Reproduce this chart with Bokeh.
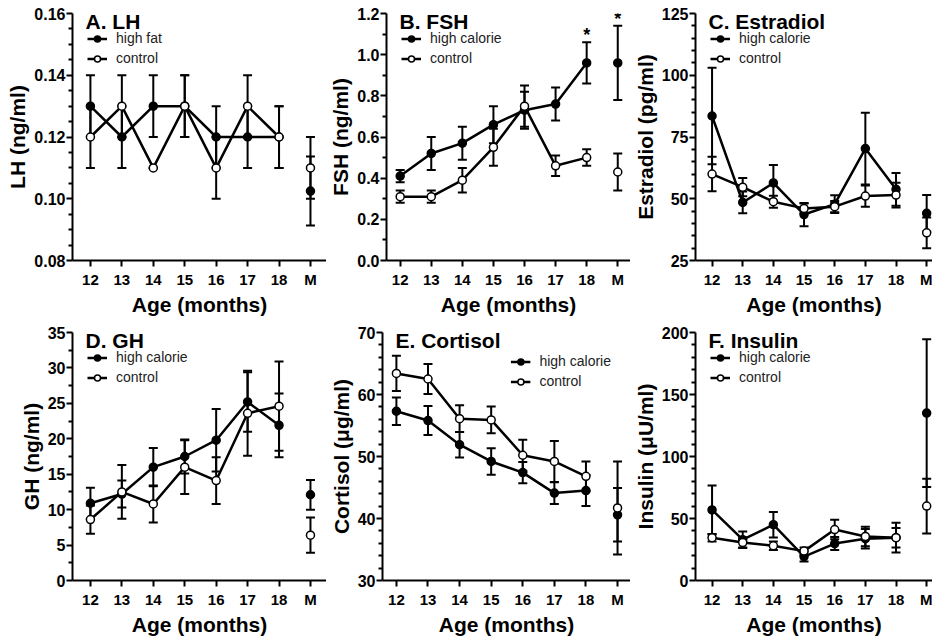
from bokeh.plotting import figure
from bokeh.layouts import column, row
from bokeh.models import (Range1d, FixedTicker, Whisker, TeeHead, ColumnDataSource,
                          Label, Legend, LegendItem, NumeralTickFormatter)
from bokeh.embed import file_html
from bokeh.resources import INLINE
from bokeh.core.properties import value

FONT = "Liberation Sans"

# ---------------- data ----------------
months = [12, 13, 14, 15, 16, 17, 18]
m_pos = 19
x_ticks = [12, 13, 14, 15, 16, 17, 18, 19]
tick_labels = ["12", "13", "14", "15", "16", "17", "18", "M"]

# A. LH
lh_hf = [0.13, 0.12, 0.13, 0.13, 0.12, 0.12, 0.12]
lh_hf_err = [0.01, 0.01, 0.01, 0.01, 0.01, 0.01, 0.01]
lh_ctl = [0.12, 0.13, 0.11, 0.13, 0.11, 0.13, 0.12]
lh_ctl_err = [0.01, 0.01, 0.0, 0.01, 0.01, 0.01, 0.01]
lh_m = [0.1025, 0.110]
lh_m_err = [0.0112, 0.010]

# B. FSH
fsh_hc = [0.41, 0.52, 0.57, 0.66, 0.73, 0.76, 0.96]
fsh_hc_err = [0.03, 0.08, 0.08, 0.09, 0.09, 0.08, 0.10]
fsh_ctl = [0.31, 0.31, 0.39, 0.55, 0.75, 0.46, 0.50]
fsh_ctl_err = [0.03, 0.03, 0.06, 0.09, 0.10, 0.05, 0.04]
fsh_m = [0.96, 0.43]
fsh_m_err = [0.18, 0.09]
fsh_sig = [18, 19]

# C. Estradiol
e2_hc = [83.5, 48.5, 56.4, 43.6, 47.8, 70.3, 53.8]
e2_hc_err = [19.5, 4.4, 7.3, 4.7, 3.6, 14.5, 6.6]
e2_ctl = [60.0, 54.7, 48.8, 46.1, 46.8, 51.1, 51.5]
e2_ctl_err = [7.0, 3.7, 2.4, 2.0, 2.3, 4.3, 5.0]
e2_m = [44.1, 36.2]
e2_m_err = [7.4, 6.2]

# D. GH
gh_hc = [10.9, 12.2, 16.0, 17.5, 19.8, 25.2, 21.9]
gh_hc_err = [2.2, 1.9, 2.7, 2.4, 4.4, 4.2, 4.5]
gh_ctl = [8.6, 12.5, 10.8, 16.0, 14.1, 23.6, 24.6]
gh_ctl_err = [2.0, 3.8, 2.6, 3.8, 3.3, 6.0, 6.3]
gh_m = [12.1, 6.4]
gh_m_err = [2.1, 2.5]

# E. Cortisol
cort_hc = [57.3, 55.8, 51.9, 49.2, 47.4, 44.1, 44.5]
cort_hc_err = [2.2, 2.35, 2.05, 2.15, 1.7, 1.75, 2.5]
cort_ctl = [63.4, 62.5, 56.1, 55.9, 50.2, 49.2, 46.8]
cort_ctl_err = [2.85, 2.4, 2.15, 2.15, 2.5, 3.3, 2.4]
cort_m = [40.6, 41.7]
cort_m_err = [4.3, 7.5]

# F. Insulin
ins_hc = [56.9, 32.9, 45.0, 19.3, 29.8, 33.7, 34.5]
ins_hc_err = [19.7, 6.6, 10.3, 4.0, 5.3, 7.9, 7.9]
ins_ctl = [34.5, 30.6, 28.0, 23.7, 41.1, 35.5, 34.5]
ins_ctl_err = [3.0, 4.0, 3.5, 3.0, 7.9, 7.9, 12.0]
ins_m = [135.0, 60.0]
ins_m_err = [59.5, 22.0]


def ticks_between(lo, hi, step, nsub):
    maj, mino = [], []
    n = int(round((hi - lo) / step))
    for i in range(n + 1):
        maj.append(round(lo + i * step, 9))
    for i in range(n):
        for j in range(1, nsub):
            mino.append(round(lo + i * step + j * step / nsub, 9))
    return maj, mino


def panel(title, ylabel, hc, hc_err, ctl, ctl_err, m_vals, m_err, yr, ystep, nsub,
          fmt, xr, width, height, bl, bt, bb, hc_label="high calorie",
          legend_loc="top_left", legend_margin=14, sig=None):
    p = figure(width=width, height=height, output_backend="svg", toolbar_location=None,
               x_range=Range1d(*xr), y_range=Range1d(*yr),
               min_border_left=bl, min_border_right=0, min_border_top=bt,
               min_border_bottom=bb)
    p.outline_line_color = None
    p.xgrid.visible = False
    p.ygrid.visible = False
    p.background_fill_color = "white"
    p.border_fill_color = "white"

    maj, mino = ticks_between(yr[0], yr[1], ystep, nsub)
    p.yaxis.ticker = FixedTicker(ticks=maj, minor_ticks=mino)
    p.yaxis.formatter = NumeralTickFormatter(format=fmt)
    p.xaxis.ticker = FixedTicker(ticks=x_ticks, minor_ticks=[])
    p.xaxis.major_label_overrides = {t: l for t, l in zip(x_ticks, tick_labels)}

    for ax in (p.xaxis[0], p.yaxis[0]):
        ax.axis_line_width = 2
        ax.axis_line_color = "black"
        ax.major_tick_line_width = 2
        ax.major_tick_line_color = "black"
        ax.minor_tick_line_width = 2
        ax.minor_tick_line_color = "black"
        ax.major_tick_in = 0
        ax.major_tick_out = 6
        ax.minor_tick_in = 0
        ax.minor_tick_out = 4
        ax.major_label_text_font = FONT
        ax.major_label_text_font_style = "bold"
        ax.major_label_text_color = "black"
        ax.axis_label_text_font = FONT
        ax.axis_label_text_font_style = "bold"
        ax.axis_label_text_font_size = "21px"
        ax.axis_label_text_color = "black"
    p.xaxis.major_label_text_font_size = "15px"
    p.yaxis.major_label_text_font_size = "16px"
    p.xaxis.axis_label = "Age (months)"
    p.yaxis.axis_label = ylabel
    p.xaxis.major_label_standoff = 4
    p.xaxis.axis_label_standoff = 2
    p.yaxis.major_label_standoff = 1
    p.yaxis.axis_label_standoff = 2

    # error bars
    xs = months + [m_pos]
    for vals, errs, mv, me in ((hc, hc_err, m_vals[0], m_err[0]),
                               (ctl, ctl_err, m_vals[1], m_err[1])):
        v = vals + [mv]
        e = errs + [me]
        src = ColumnDataSource(dict(x=xs, lo=[a - b for a, b in zip(v, e)],
                                    hi=[a + b for a, b in zip(v, e)]))
        w = Whisker(base="x", lower="lo", upper="hi", source=src, dimension="height",
                    line_width=2, line_color="black",
                    lower_head=TeeHead(size=9, line_width=2, line_color="black"),
                    upper_head=TeeHead(size=9, line_width=2, line_color="black"))
        p.add_layout(w)

    # lines + markers
    l_hc = p.line(months, hc, line_width=2.5, line_color="black")
    l_ctl = p.line(months, ctl, line_width=2.5, line_color="black")
    s_hc = p.scatter(months, hc, size=8, marker="circle", fill_color="black",
                     line_color="black", line_width=1.5)
    s_ctl = p.scatter(months, ctl, size=8, marker="circle", fill_color="white",
                      line_color="black", line_width=1.5)
    p.scatter([m_pos], [m_vals[0]], size=8, marker="circle", fill_color="black",
              line_color="black", line_width=1.5)
    p.scatter([m_pos], [m_vals[1]], size=8, marker="circle", fill_color="white",
              line_color="black", line_width=1.5)

    if sig is not None:
        all_v = hc + [m_vals[0]]
        all_e = hc_err + [m_err[0]]
        sy = [all_v[xs.index(s)] + all_e[xs.index(s)] for s in sig]
        p.text(x=sig, y=sy, text=["*"] * len(sig), text_font=value(FONT),
               text_font_style="bold", text_font_size="18px", text_align="center",
               text_baseline="alphabetic", text_color="black", y_offset=-7)

    legend = Legend(items=[LegendItem(label=hc_label, renderers=[l_hc, s_hc]),
                           LegendItem(label="control", renderers=[l_ctl, s_ctl])],
                    location=legend_loc, margin=legend_margin, padding=1, spacing=0,
                    glyph_width=20, glyph_height=15, label_height=20, label_standoff=9,
                    label_text_font=FONT, label_text_font_size="14px",
                    label_text_color="#222222",
                    border_line_alpha=0, background_fill_alpha=0)
    p.add_layout(legend)

    p.add_layout(Label(x=xr[0], y=yr[1], x_offset=13, y_offset=-8, text=title,
                       text_font=FONT, text_font_style="bold", text_font_size="21px",
                       text_baseline="alphabetic", text_align="left",
                       text_color="black"))
    return p


XA = (11.43, 19.51)
XB = (11.56, 19.41)
XC = (11.46, 19.19)

pA = panel("A. LH", "LH (ng/ml)", lh_hf, lh_hf_err, lh_ctl, lh_ctl_err, lh_m, lh_m_err,
           (0.08, 0.16), 0.02, 4, "0.00", XA, 326, 318, 72, 13, 54, hc_label="high fat")
pB = panel("B. FSH", "FSH (ng/ml)", fsh_hc, fsh_hc_err, fsh_ctl, fsh_ctl_err, fsh_m,
           fsh_m_err, (0.0, 1.2), 0.2, 2, "0.0", XB, 304, 318, 56, 13, 54, sig=fsh_sig)
pC = panel("C. Estradiol", "Estradiol (pg/ml)", e2_hc, e2_hc_err, e2_ctl, e2_ctl_err,
           e2_m, e2_m_err, (25, 125), 25, 5, "0", XC, 302, 318, 59, 13, 54)
pD = panel("D. GH", "GH (ng/ml)", gh_hc, gh_hc_err, gh_ctl, gh_ctl_err, gh_m, gh_m_err,
           (0, 35), 5, 2, "0", XA, 326, 320, 72, 14, 55)
pE = panel("E. Cortisol", "Cortisol (μg/ml)", cort_hc, cort_hc_err, cort_ctl,
           cort_ctl_err, cort_m, cort_m_err, (30, 70), 10, 5, "0", XB, 304, 320, 56, 14,
           55, legend_loc="top_right", legend_margin=18)
pF = panel("F. Insulin", "Insulin (μU/ml)", ins_hc, ins_hc_err, ins_ctl, ins_ctl_err,
           ins_m, ins_m_err, (0, 200), 50, 5, "0", XC, 302, 320, 59, 14, 55)

layout = column(row(pA, pB, pC, spacing=0), row(pD, pE, pF, spacing=0), spacing=0)

open("out.html", "w").write(file_html(layout, INLINE))
